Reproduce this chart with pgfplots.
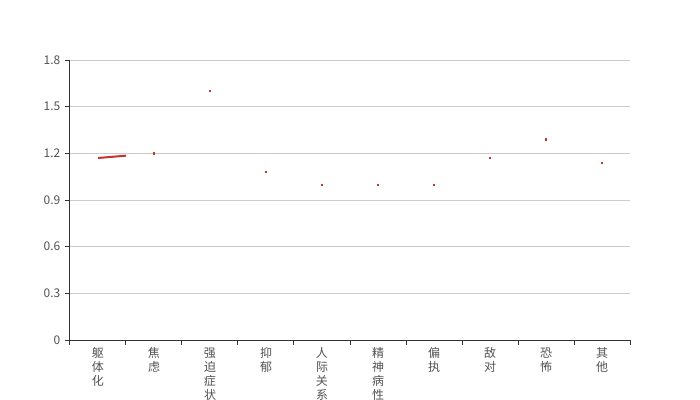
\documentclass[border=0pt]{standalone}
\usepackage{fontspec}
\setmainfont{Noto Sans CJK SC}
\usepackage{pgfplots}
\pgfplotsset{compat=1.18}
\definecolor{cRed}{HTML}{C23531}
\definecolor{cAxis}{HTML}{333333}
\definecolor{cGrid}{HTML}{CCCCCC}

\begin{document}
\begin{tikzpicture}[x=0.75pt,y=0.75pt]
\clip (-70,-60) rectangle (630,340);
\begin{axis}[at={(0,0)}, anchor=south west, scale only axis,
  width=420pt, height=210pt,
  xmin=-0.5, xmax=9.5, ymin=0, ymax=1.8,
  axis lines*=left, axis line style={cAxis, line width=0.75pt},
  ytick={0,0.3,...,1.8}, ymajorgrids, grid style={cGrid, line width=0.75pt},
  xtick={0,...,9}, major x tick style={draw=none},
  minor xtick={-0.5,0.5,...,9.5},
  tick align=outside, major tick length=3.75pt, minor tick length=3.75pt,
  tick style={cAxis, line width=0.75pt},
  xticklabels={躯\\体\\化, 焦\\虑, 强\\迫\\症\\状, 抑\\郁, 人\\际\\关\\系\\敏\\感,
    精\\神\\病\\性, 偏\\执, 敌\\对, 恐\\怖, 其\\他},
  xticklabel style={align=center, font=\fontsize{9}{10.5}\selectfont, text=cAxis!85, anchor=north, yshift=1.5pt},
  yticklabel style={font=\fontsize{9}{10}\selectfont, text=cAxis!85},
  y tick label style={/pgf/number format/fixed, /pgf/number format/precision=1},
  /pgf/number format/assume math mode=true,
  clip=false]
  \addplot[cRed, line width=1.5pt] coordinates {(0,1.17) (0.5,1.185)};
  \addplot[only marks, mark=square*, mark size=0.45pt, cRed] coordinates {
    (1,1.20) (2,1.60) (3,1.08) (4,1.00) (5,1.00) (6,1.00) (7,1.17) (8,1.29) (9,1.14)};
\end{axis}
\end{tikzpicture}
\end{document}
